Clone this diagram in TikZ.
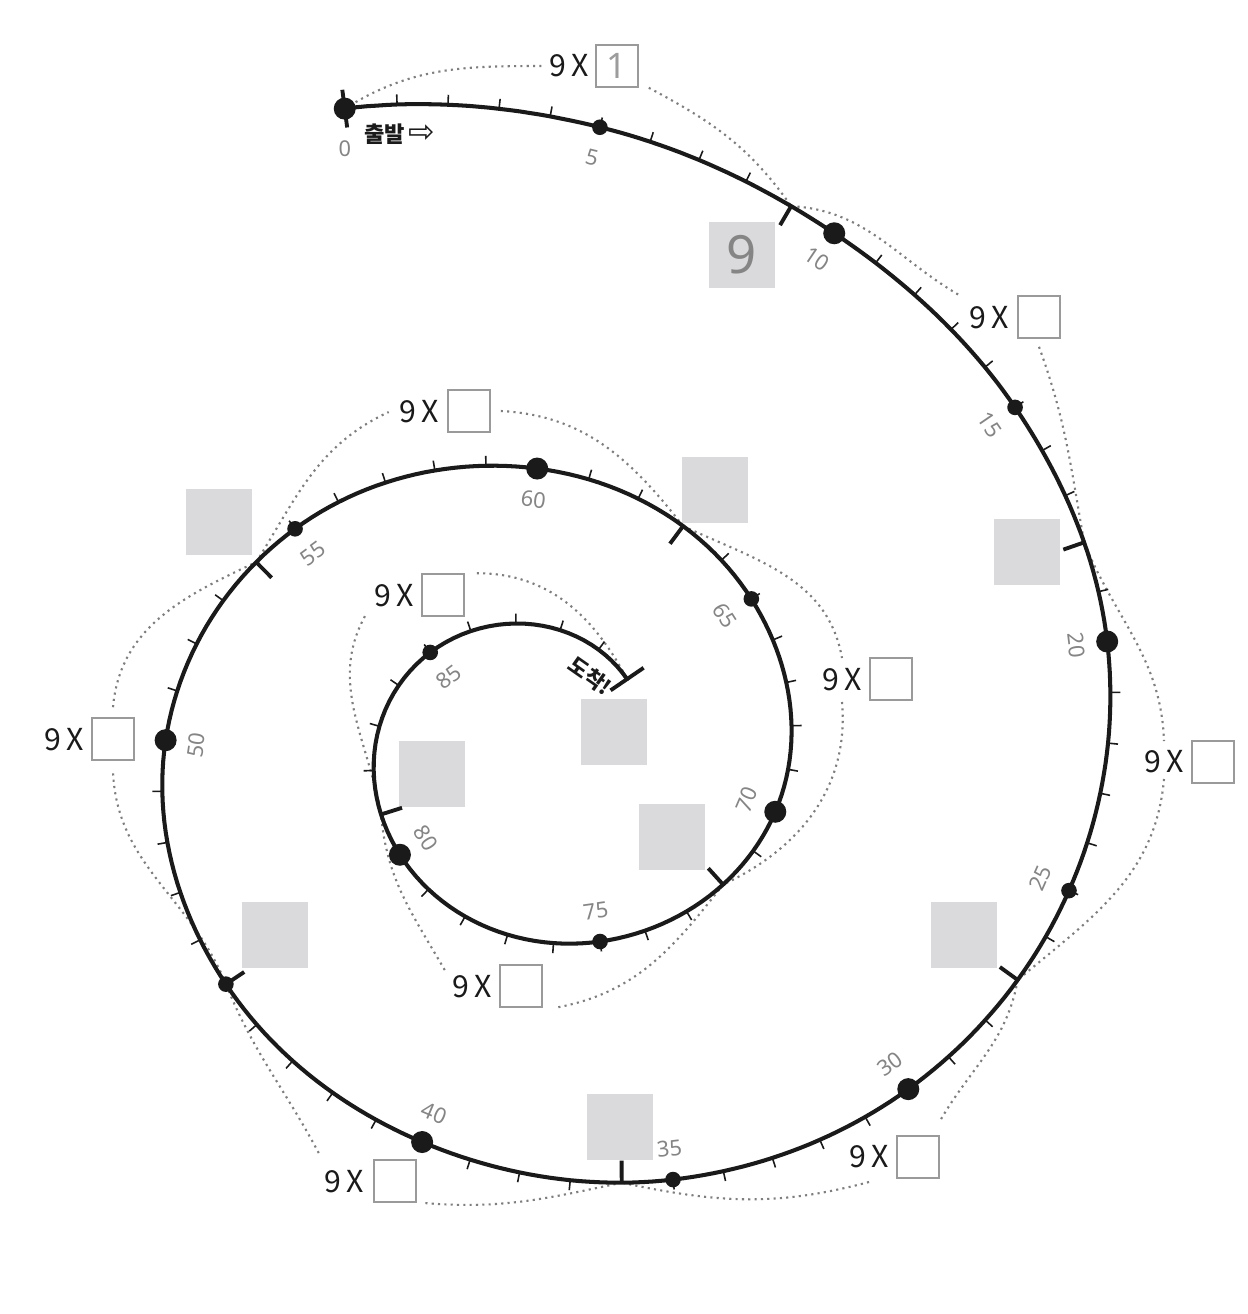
\documentclass[tikz,border=0pt]{standalone}
\usepackage{fontspec}
\setmainfont{Noto Sans}
\newfontfamily\kr{Noto Sans CJK KR}
\newfontfamily\dvs{DejaVu Sans}
\usetikzlibrary{calc}
\definecolor{numgray}{HTML}{858585}
\definecolor{handgray}{HTML}{9C9C9C}
\definecolor{boxgray}{HTML}{DADADC}
\definecolor{dotgray}{HTML}{7E7E7E}
\definecolor{framegray}{HTML}{9A9A9A}
\definecolor{ink}{HTML}{1A1A1A}
% corrections (padded, t = -5,0,5,...,90,95)
\def\DsTab{{0,0,-3,0,2,4,3,-1,-13,-19,-15,-4,-1,0,14,2,-10,-11,-4,0,0}}
\def\DrTab{{0,0,-10,-16,-6,8,12,10,2,-7,-4,6,6,0,1,8,3,0,5,0,0}}
\newcommand\SpAt[1]{%
  \pgfmathsetmacro\spT{#1}%
  \pgfmathtruncatemacro\spI{max(min(floor(\spT/5),17),0)}%
  \pgfmathsetmacro\spF{\spT/5-\spI}%
  \pgfmathtruncatemacro\spIa{\spI+1}%
  \pgfmathtruncatemacro\spIb{\spI+2}%
  \pgfmathtruncatemacro\spIc{\spI+3}%
  \pgfmathsetmacro\spDs{0.5*(2*\DsTab[\spIa]+(-\DsTab[\spI]+\DsTab[\spIb])*\spF+(2*\DsTab[\spI]-5*\DsTab[\spIa]+4*\DsTab[\spIb]-\DsTab[\spIc])*\spF*\spF+(-\DsTab[\spI]+3*\DsTab[\spIa]-3*\DsTab[\spIb]+\DsTab[\spIc])*\spF*\spF*\spF)}%
  \pgfmathsetmacro\spDr{0.5*(2*\DrTab[\spIa]+(-\DrTab[\spI]+\DrTab[\spIb])*\spF+(2*\DrTab[\spI]-5*\DrTab[\spIa]+4*\DrTab[\spIb]-\DrTab[\spIc])*\spF*\spF+(-\DrTab[\spI]+3*\DrTab[\spIa]-3*\DrTab[\spIb]+\DrTab[\spIc])*\spF*\spF*\spF)}%
  \pgfmathsetmacro\spV{\spT/10}%
  \pgfmathsetmacro\spS{489.67*\spV+5.167*\spV*\spV-0.722*\spV*\spV*\spV+\spDs}%
  \pgfmathsetmacro\spU{1-\spS/5150.5}%
  \pgfmathsetmacro\spR{669*\spU+\spDr}%
  \pgfmathsetmacro\spTh{105.9+437.37*ln(\spU)}%
  \pgfmathsetmacro\spX{539+1.06*\spR*cos(\spTh)}%
  \pgfmathsetmacro\spY{\spR*sin(\spTh)-752}%
}
\newcommand\SpDir[1]{%
  \SpAt{#1-0.1}\let\spAx\spX\let\spAy\spY
  \SpAt{#1+0.1}\let\spBx\spX\let\spBy\spY
  \pgfmathsetmacro\spAng{atan2(\spBy-\spAy,\spBx-\spAx)}%
  \SpAt{#1}%
}
\begin{document}
\begin{tikzpicture}[x=0.01cm,y=0.01cm,
  spiralline/.style={draw=ink,line width=1.15pt,line join=round,line cap=round},
  shorttick/.style={draw=ink,line width=0.45pt},
  longtick/.style={draw=ink,line width=1.1pt},
  jumparc/.style={draw=dotgray,line width=0.6pt,dash pattern=on 0.6pt off 1.2pt},
  numlab/.style={text=numgray,font=\fontsize{6.2}{7}\selectfont,inner sep=0pt},
  ninex/.style={font=\kr\fontsize{8.6}{9}\selectfont,text=ink,inner sep=0.05cm},
  ansbox/.style={draw=framegray,line width=0.45pt,minimum size=0.42cm,inner sep=0pt},
  graybox/.style={fill=boxgray,minimum size=0.65cm,inner sep=0pt},
  marklab/.style={font=\kr\bfseries\fontsize{6.3}{7}\selectfont,text=ink,inner sep=0pt},
]
\useasboundingbox[fill=white] (0,0) rectangle (1248,-1314);

% gray answer squares
\node[graybox,text=numgray,font=\fontsize{15}{16}\selectfont] (g9) at (742,-255) {9};
\node[graybox] (g18) at (1027,-552) {};
\node[graybox] (g27) at (964,-935) {};
\node[graybox] (g36) at (620,-1127) {};
\node[graybox] (g45) at (275,-935) {};
\node[graybox] (g54) at (219,-522) {};
\node[graybox] (g63) at (715,-490) {};
\node[graybox] (g72) at (672,-837) {};
\node[graybox] (g81) at (432,-774) {};
\node[graybox] (g90) at (614,-732) {};

% 9 x [] labels
\node[ninex] (t1) at (569,-66) {9\kern0.05cm X};
\node[ansbox,text=handgray,font=\fontsize{10}{11}\selectfont] (b1) at (617,-66) {1};
\node[ninex] (t2) at (989,-318) {9\kern0.05cm X};
\node[ansbox] (b2) at (1039,-317) {};
\node[ninex] (t3) at (1164,-762) {9\kern0.05cm X};
\node[ansbox] (b3) at (1213,-762) {};
\node[ninex] (t4) at (869,-1157) {9\kern0.05cm X};
\node[ansbox] (b4) at (918,-1157) {};
\node[ninex] (t5) at (344,-1182) {9\kern0.05cm X};
\node[ansbox] (b5) at (395,-1181) {};
\node[ninex] (t6) at (64,-740) {9\kern0.05cm X};
\node[ansbox] (b6) at (113,-739) {};
\node[ninex] (t7) at (419,-412) {9\kern0.05cm X};
\node[ansbox] (b7) at (469,-411) {};
\node[ninex] (t8) at (842,-680) {9\kern0.05cm X};
\node[ansbox] (b8) at (891,-679) {};
\node[ninex] (t9) at (472,-987) {9\kern0.05cm X};
\node[ansbox] (b9) at (521,-986) {};
\node[ninex] (t10) at (394,-596) {9\kern0.05cm X};
\node[ansbox] (b10) at (443,-595) {};

% points at multiples of 9
\foreach \n in {0,9,...,90}{\SpAt{\n}\coordinate (m\n) at (\spX,\spY);}

% jump arcs
\draw[jumparc] (m0) to[out=32,in=180] (t1.west);
\draw[jumparc] ([xshift=0.1cm]b1.south east) to[out=-28,in=125] (m9);
\draw[jumparc] (m9) to[out=-3,in=150] ([xshift=-0.03cm,yshift=0.05cm]t2.north west);
\draw[jumparc] ([yshift=-0.08cm]b2.south) to[out=-70,in=100] (m18);
\draw[jumparc] (m18) to[out=-68,in=92] ([yshift=0.04cm]t3.north);
\draw[jumparc] (t3.south) to[out=-95,in=40] (m27);
\draw[jumparc] (m27) to[out=-100,in=60] ([yshift=0.14cm]b4.north east);
\draw[jumparc] ([yshift=-0.08cm]t4.south) to[out=-165,in=-12] (m36);
\draw[jumparc] (m36) to[out=-168,in=-5] ([xshift=0.05cm]b5.south east);
\draw[jumparc] ([yshift=0.12cm]t5.north west) to[out=118,in=-68] (m45);
\draw[jumparc] (m45) to[out=112,in=-88] ([yshift=-0.1cm]b6.south);
\draw[jumparc] ([yshift=0.1cm]b6.north) to[out=85,in=-155] (m54);
\draw[jumparc] (m54) to[out=58,in=205] ([xshift=-0.05cm]t7.west);
\draw[jumparc] ([xshift=0.1cm]b7.east) to[out=-3,in=128] (m63);
\draw[jumparc] (m63) to[out=-25,in=100] ([yshift=0.05cm]t8.north);
\draw[jumparc] ([yshift=-0.05cm]t8.south) to[out=-85,in=25] (m72);
\draw[jumparc] (m72) to[out=-128,in=10] ([xshift=0.12cm]b9.south east);
\draw[jumparc] ([xshift=-0.02cm]t9.north west) to[out=120,in=-85] (m81);
\draw[jumparc] (m81) to[out=100,in=-120] ([xshift=-0.02cm]t10.south west);
\draw[jumparc] ([xshift=0.12cm]b10.north east) to[out=0,in=118] (m90);

% spiral
\foreach \i in {0,...,450}{\SpAt{\i/5}\coordinate (c\i) at (\spX,\spY);}
\draw[spiralline] (c0) \foreach \i in {1,...,450}{ -- (c\i)};

% ticks
\foreach \n in {1,...,89}{
  \SpDir{\n}
  \pgfmathtruncatemacro\isnine{mod(\n,9)==0 ? 1 : 0}
  \ifnum\isnine=1
    \draw[longtick] (\spX,\spY) -- ++(\spAng-90:22);
  \else
    \draw[shorttick] (\spX,\spY) -- ++(\spAng+90:10);
  \fi
}
\SpDir{0}
\draw[longtick] (\spX,\spY) ++(\spAng+90:19) -- ++(\spAng-90:38);
\SpDir{90}
\draw[longtick] (\spX,\spY) ++(\spAng+90:20) -- ++(\spAng-90:40);

% dots
\foreach \n in {5,15,...,85}{\SpAt{\n}\fill[ink] (\spX,\spY) circle (0.078cm);}
\foreach \n in {0,10,...,80}{\SpAt{\n}\fill[ink] (\spX,\spY) circle (0.11cm);}

% number labels
\foreach \n in {5,10,...,85}{
  \ifnum\n=45\else
  \SpDir{\n}
  \pgfmathsetmacro\rot{\spAng>85 ? \spAng-180 : (\spAng<-100 ? \spAng+180 : \spAng)}
  \path (\spX,\spY) ++(\spAng-90:31) node[numlab,rotate=\rot] (n\n) {\n};
  \fi
}
\node[numlab] (n0) at ([yshift=-0.4cm]m0) {0};
\node[marklab] (start) at (400,-134) {출발\,{\dvs\mdseries\fontsize{9}{9}\selectfont ⇨}};
\node[marklab,font=\kr\bfseries\fontsize{6}{7}\selectfont,rotate=-35] (goal) at (590,-676) {도착!};
\end{tikzpicture}
\end{document}
